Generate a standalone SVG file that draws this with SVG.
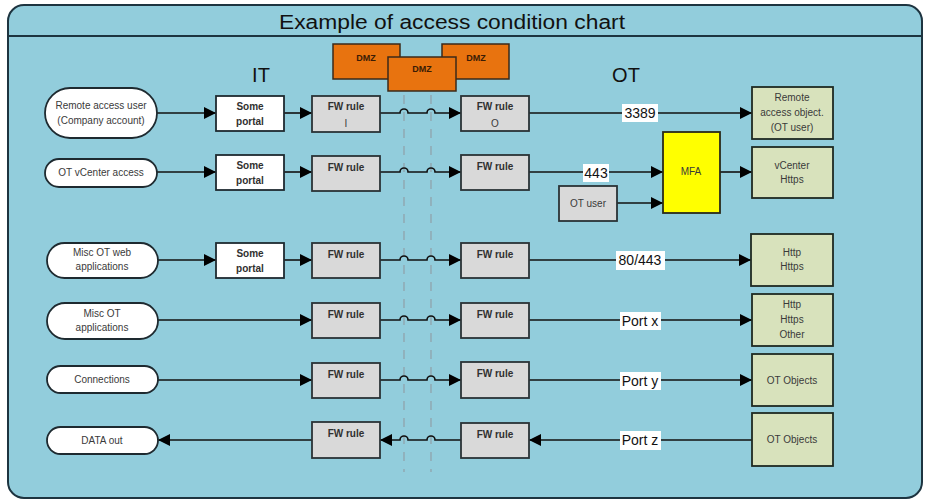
<svg xmlns="http://www.w3.org/2000/svg" width="926" height="504" viewBox="0 0 926 504">
<defs>
<marker id="ahb" viewBox="0 0 10 10" refX="10" refY="5" markerWidth="12" markerHeight="12" markerUnits="userSpaceOnUse" orient="auto">
<path d="M0,0 L10,5 L0,10 z" fill="#000"/>
</marker>
</defs>
<style>
text{font-family:"Liberation Sans",Arial,sans-serif;}
.oval{fill:#fff;stroke:#1e2a30;stroke-width:1.8;}
.portal{fill:#fff;stroke:#1e2a30;stroke-width:1.8;}
.fw{fill:#d9d9d9;stroke:#2a3236;stroke-width:1.8;}
.tgt{fill:#d8e2bc;stroke:#1f2a22;stroke-width:1.8;}
.dmz{fill:#e8730f;stroke:#3b2a1a;stroke-width:1.5;}
.mfa{fill:#ffff00;stroke:#2a2a1a;stroke-width:1.8;}
.t{font-size:10px;fill:#3a3a3a;text-anchor:middle;}
.b{font-size:10px;font-weight:bold;fill:#303030;text-anchor:middle;}
.dz{font-size:9px;font-weight:bold;fill:#3a1c05;text-anchor:middle;}
.lbl{font-size:14px;fill:#111;text-anchor:middle;}
.lbg{fill:#fff;}
.hd{font-size:20px;fill:#111;text-anchor:middle;}
.c{fill:none;stroke:#111;stroke-width:1.6;}
.arr{marker-end:url(#ahb);}
.dash{stroke:#8fa0a8;stroke-width:1.2;stroke-dasharray:9 8;fill:none;}
</style>

<g id="container">
<rect x="8" y="5" width="914" height="493" rx="16" ry="16" fill="#92cddc" stroke="#1d3440" stroke-width="2"/>
<line x1="9" y1="36" x2="921" y2="36" stroke="#1d3440" stroke-width="2"/>
<text class="hd" x="452" y="29" textLength="346" lengthAdjust="spacingAndGlyphs">Example of access condition chart</text>
<text class="hd" x="261" y="82">IT</text>
<text class="hd" x="626" y="82">OT</text>
</g>

<g id="zones">
<line class="dash" x1="404" y1="95" x2="404" y2="472"/>
<line class="dash" x1="431" y1="95" x2="431" y2="472"/>
</g>

<g id="dmz-left"><rect class="dmz" x="333" y="44" width="67" height="35"/><text class="dz" x="366" y="61">DMZ</text></g>
<g id="dmz-right"><rect class="dmz" x="442" y="44" width="67" height="35"/><text class="dz" x="476" y="61">DMZ</text></g>
<g id="dmz-center"><rect class="dmz" x="388" y="57" width="68" height="34"/><text class="dz" x="422" y="72">DMZ</text></g>

<g id="connectors">
<path class="c arr" d="M157,113 H216"/>
<path class="c arr" d="M284,113 H312"/>
<path class="c arr" d="M380,113 H400 a4,4 0 0 1 8,0 H427 a4,4 0 0 1 8,0 H461"/>
<path class="c arr" d="M529,113 H752"/>
<path class="c arr" d="M157,172 H216"/>
<path class="c arr" d="M284,172 H312"/>
<path class="c arr" d="M380,172 H400 a4,4 0 0 1 8,0 H427 a4,4 0 0 1 8,0 H461"/>
<path class="c arr" d="M529,172 H663"/>
<path class="c arr" d="M617,203 H663"/>
<path class="c arr" d="M720,172 H752"/>
<path class="c arr" d="M158,260 H216"/>
<path class="c arr" d="M284,260 H312"/>
<path class="c arr" d="M380,260 H400 a4,4 0 0 1 8,0 H427 a4,4 0 0 1 8,0 H461"/>
<path class="c arr" d="M529,260 H751"/>
<path class="c arr" d="M158,320 H312"/>
<path class="c arr" d="M380,320 H400 a4,4 0 0 1 8,0 H427 a4,4 0 0 1 8,0 H461"/>
<path class="c arr" d="M529,320 H752"/>
<path class="c arr" d="M158,380 H312"/>
<path class="c arr" d="M380,380 H400 a4,4 0 0 1 8,0 H427 a4,4 0 0 1 8,0 H461"/>
<path class="c arr" d="M529,380 H752"/>
<path class="c arr" d="M752,440 H529"/>
<path class="c arr" d="M461,440 H435 a4,4 0 0 0 -8,0 H408 a4,4 0 0 0 -8,0 H380"/>
<path class="c arr" d="M312,440 H158"/>
<rect class="lbg" x="622" y="104" width="36" height="18"/><text class="lbl" x="640" y="118">3389</text>
<rect class="lbg" x="583" y="164" width="26" height="18"/><text class="lbl" x="596" y="178">443</text>
<rect class="lbg" x="616" y="251" width="49" height="19"/><text class="lbl" x="640" y="265">80/443</text>
<rect class="lbg" x="620" y="312" width="41" height="18"/><text class="lbl" x="640" y="326">Port x</text>
<rect class="lbg" x="620" y="372" width="41" height="18"/><text class="lbl" x="640" y="386">Port y</text>
<rect class="lbg" x="620" y="431" width="41" height="19"/><text class="lbl" x="640" y="445">Port z</text>
</g>

<g id="remote-user"><rect class="oval" x="45" y="88" width="112" height="50" rx="25"/><text class="t" x="101" y="109">Remote access user</text><text class="t" x="101" y="124">(Company account)</text></g>
<g id="portal-1"><rect class="portal" x="216" y="96" width="68" height="35"/><text class="b" x="250" y="110">Some</text><text class="b" x="250" y="125">portal</text></g>
<g id="fw-i-1"><rect class="fw" x="312" y="96" width="68" height="36"/><text class="b" x="346" y="110">FW rule</text><text class="t" x="346" y="127">I</text></g>
<g id="fw-o-1"><rect class="fw" x="461" y="96" width="68" height="35"/><text class="b" x="495" y="110">FW rule</text><text class="t" x="495" y="127">O</text></g>
<g id="remote-object"><rect class="tgt" x="752" y="87" width="81" height="52"/><text class="t" x="792" y="101">Remote</text><text class="t" x="792" y="116">access object.</text><text class="t" x="792" y="131">(OT user)</text></g>

<g id="vcenter-access"><rect class="oval" x="45" y="159" width="112" height="28" rx="14"/><text class="t" x="101" y="176">OT vCenter access</text></g>
<g id="portal-2"><rect class="portal" x="216" y="155" width="68" height="35"/><text class="b" x="250" y="169">Some</text><text class="b" x="250" y="184">portal</text></g>
<g id="fw-i-2"><rect class="fw" x="312" y="156" width="68" height="35"/><text class="b" x="346" y="171">FW rule</text></g>
<g id="fw-o-2"><rect class="fw" x="461" y="155" width="68" height="35"/><text class="b" x="495" y="170">FW rule</text></g>
<g id="ot-user"><rect class="fw" x="559" y="186" width="58" height="35"/><text class="t" x="588" y="207">OT user</text></g>
<g id="mfa"><rect class="mfa" x="663" y="132" width="57" height="81"/><text class="t" x="691" y="175">MFA</text></g>
<g id="vcenter-https"><rect class="tgt" x="752" y="147" width="81" height="51"/><text class="t" x="792" y="169">vCenter</text><text class="t" x="792" y="183">Https</text></g>

<g id="misc-web"><rect class="oval" x="47" y="243" width="111" height="35" rx="17.5"/><text class="t" x="102" y="256">Misc OT web</text><text class="t" x="102" y="270">applications</text></g>
<g id="portal-3"><rect class="portal" x="216" y="243" width="68" height="35"/><text class="b" x="250" y="257">Some</text><text class="b" x="250" y="272">portal</text></g>
<g id="fw-i-3"><rect class="fw" x="312" y="243" width="68" height="35"/><text class="b" x="346" y="258">FW rule</text></g>
<g id="fw-o-3"><rect class="fw" x="461" y="243" width="68" height="35"/><text class="b" x="495" y="258">FW rule</text></g>
<g id="http-https"><rect class="tgt" x="751" y="234" width="82" height="52"/><text class="t" x="792" y="256">Http</text><text class="t" x="792" y="270">Https</text></g>

<g id="misc-apps"><rect class="oval" x="47" y="303" width="111" height="36" rx="18"/><text class="t" x="102" y="317">Misc OT</text><text class="t" x="102" y="331">applications</text></g>
<g id="fw-i-4"><rect class="fw" x="312" y="303" width="68" height="35"/><text class="b" x="346" y="318">FW rule</text></g>
<g id="fw-o-4"><rect class="fw" x="461" y="303" width="68" height="35"/><text class="b" x="495" y="318">FW rule</text></g>
<g id="http-https-other"><rect class="tgt" x="752" y="294" width="81" height="52"/><text class="t" x="792" y="308">Http</text><text class="t" x="792" y="323">Https</text><text class="t" x="792" y="338">Other</text></g>

<g id="connections"><rect class="oval" x="47" y="366" width="111" height="27" rx="13.5"/><text class="t" x="102" y="383">Connections</text></g>
<g id="fw-i-5"><rect class="fw" x="312" y="363" width="68" height="35"/><text class="b" x="346" y="378">FW rule</text></g>
<g id="fw-o-5"><rect class="fw" x="461" y="362" width="68" height="36"/><text class="b" x="495" y="377">FW rule</text></g>
<g id="ot-objects-5"><rect class="tgt" x="752" y="354" width="81" height="52"/><text class="t" x="792" y="384">OT Objects</text></g>

<g id="data-out"><rect class="oval" x="47" y="427" width="111" height="27" rx="13.5"/><text class="t" x="102" y="444">DATA out</text></g>
<g id="fw-i-6"><rect class="fw" x="312" y="422" width="68" height="36"/><text class="b" x="346" y="437">FW rule</text></g>
<g id="fw-o-6"><rect class="fw" x="461" y="423" width="68" height="35"/><text class="b" x="495" y="438">FW rule</text></g>
<g id="ot-objects-6"><rect class="tgt" x="752" y="413" width="81" height="53"/><text class="t" x="792" y="443">OT Objects</text></g>
</svg>
